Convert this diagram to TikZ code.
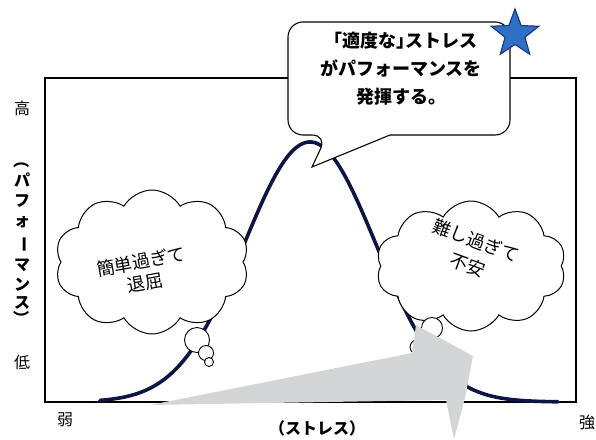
\documentclass[tikz,border=0pt]{standalone}
\usepackage{fontspec}
\newfontfamily\jp{Noto Sans CJK JP}
\usetikzlibrary{shapes.symbols,shapes.geometric}
\definecolor{navy}{HTML}{0E1545}
\definecolor{arrowgray}{HTML}{D3D5D7}
\definecolor{starblue}{HTML}{2F6FC4}
\definecolor{stardark}{HTML}{1C3A85}
\tikzset{
  axislbl/.style={font=\jp\fontsize{16}{16}\selectfont, inner sep=0},
  boldlbl/.style={font=\jp\bfseries\fontsize{16}{16}\selectfont, inner sep=0},
  cloudbox/.style={cloud, cloud puffs=10, cloud puff arc=120, cloud ignores aspect, draw=black, fill=white, line width=1pt, inner sep=0},
  thought/.style={circle, draw=black, fill=white, line width=0.9pt, inner sep=0},
  cloudtext/.style={font=\jp\fontsize{18}{21}\selectfont, align=center, inner sep=0},
  bubbletext/.style={font=\jp\bfseries\fontsize{18}{28}\selectfont, align=center, inner sep=0},
}
\begin{document}
\begin{tikzpicture}[x=1pt,y=-1pt]
\useasboundingbox (0,0) rectangle (596,439);
% frame
\draw[line width=1.4pt] (45,402) -- (45,78) -- (576,78) -- (576,402) -- cycle;
% bell curve
\draw[navy, line width=3.6pt, line cap=round, domain=100:558, samples=150, smooth]
  plot (\x, {402-260*exp(-((\x-310)/66)^2/2)});
% clouds
\node[cloudbox, minimum width=194pt, minimum height=144pt] (lc) at (152,262) {};
\node[cloudbox, minimum width=190pt, minimum height=130pt] (rc) at (471,266) {};
\node[cloudtext, rotate=10] (lt) at (143,272) {簡単過ぎて\\退屈};
\node[cloudtext, rotate=-20, font=\jp\fontsize{18}{26}\selectfont] (rt) at (472,253) {難し過ぎて\\不安};
% thought circles
\node[thought, minimum size=25pt] (l1) at (197,340) {};
\node[thought, minimum size=15pt] (l2) at (206,353) {};
\node[thought, minimum size=9pt] (l3) at (209,362) {};
\node[thought, minimum size=21pt] (r1) at (432,328) {};
\node[thought, minimum size=14pt] (r2) at (417,347) {};
% gray arrow shape
\fill[arrowgray] (150,405) -- (412,353) -- (416,325) -- (473,356) -- (465,398)
  -- (454,439) -- (446,400) -- cycle;
% speech bubble
\draw[fill=white, line width=1.1pt]
  (400,22) [rounded corners=15pt] -- (288,22) -- (288,135) -- (327,135)
  [sharp corners] -- (312,167) -- (390,135)
  [rounded corners=15pt] -- (510,135) -- (510,22) -- cycle;
\node[bubbletext] (bt) at (401,69) {「適度な」\kern-0.45em ストレス\\がパフォーマンスを\\発揮する。};
% star
\node[star, star points=5, star point ratio=2.4, minimum size=50pt, inner sep=0,
  fill=starblue, draw=stardark, line width=1.2pt] (st) at (515,34) {};
% axis labels
\node[axislbl] (hi) at (22,108) {高};
\node[axislbl] (lo) at (22,362) {低};
\node[axislbl] (weak) at (65,420) {弱};
\node[axislbl] (strong) at (587,422) {強};
\node[boldlbl] (xl) at (317,428) {（ストレス）};
% vertical y label
\node[boldlbl, rotate=-90] (v0) at (22,160) {（};
\node[boldlbl] (v1) at (22,180) {パ};
\node[boldlbl] (v2) at (22,201) {フ};
\node[boldlbl] (v3) at (22,222) {ォ};
\node[boldlbl, rotate=-90] (v4) at (22,244) {ー};
\node[boldlbl] (v5) at (22,265) {マ};
\node[boldlbl] (v6) at (22,285) {ン};
\node[boldlbl] (v7) at (22,303) {ス};
\node[boldlbl, rotate=-90] (v8) at (22,318) {）};
\end{tikzpicture}
\end{document}
